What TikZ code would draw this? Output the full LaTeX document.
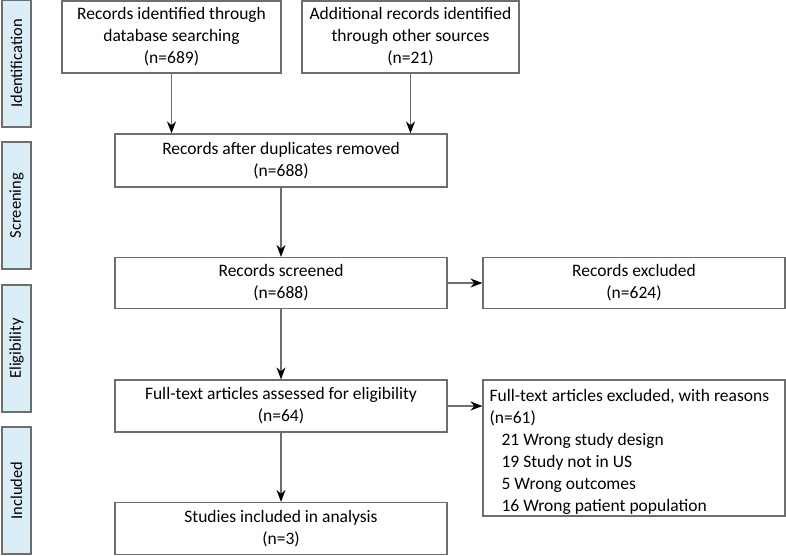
\documentclass[tikz,border=0pt]{standalone}
\usepackage{fontspec}
\setmainfont{Carlito}
\usetikzlibrary{arrows.meta,calc}
\definecolor{stagefill}{HTML}{DAEEF7}
\definecolor{edgegray}{HTML}{6E6E6E}
\definecolor{linegray}{HTML}{6E6E6E}
\tikzset{
    box/.style={draw=edgegray,line width=1.2pt,fill=white,inner sep=2pt,
        align=center,font=\fontsize{17.5}{22}\selectfont},
    stage/.style={draw=edgegray,line width=1.2pt,fill=stagefill,rotate=90,
        minimum width=127pt,minimum height=29pt,inner sep=0pt,
        font=\fontsize{16.5}{18}\selectfont},
    flow/.style={draw=linegray,line width=1.2pt,-{Stealth[length=12pt,width=9pt,color=black]}}
}
\begin{document}
\begin{tikzpicture}[x=1pt,y=-1pt]
    \useasboundingbox (0,0) rectangle (786,555);
    %% stage labels
    \node[stage] (ident) at (16.5,63.5) {Identification};
    \node[stage] (screen) at (16.5,205.5) {Screening};
    \node[stage] (elig) at (16.5,348.5) {Eligibility};
    \node[stage] (incl) at (16.5,490.5) {Included};
    %% main flow
    \node[box,minimum width=219pt,minimum height=72pt] (dbsearch) at (171.5,37)
        {Records identified through\\database searching\\(n=689)};
    \node[box,minimum width=217pt,minimum height=72pt] (othersrc) at (410.5,37)
        {Additional records identified\\through other sources\\(n=21)};
    \node[box,minimum width=332pt,minimum height=53pt] (dedup) at (281,160.5)
        {Records after duplicates removed\\(n=688)};
    \node[box,minimum width=332pt,minimum height=51pt] (screened) at (281,283)
        {Records screened\\(n=688)};
    \node[box,minimum width=302pt,minimum height=51pt] (excluded) at (634,283)
        {Records excluded\\(n=624)};
    \node[box,minimum width=332pt,minimum height=52pt] (fulltext) at (281,406)
        {Full-text articles assessed for eligibility\\(n=64)};
    \node[box,minimum width=302pt,minimum height=136pt] (ftexcl) at (634,448) {};
    \node[anchor=north west,align=left,inner sep=0pt,
        font=\fontsize{17.5}{22}\selectfont] (reasons) at ($(ftexcl.north west)+(7,10)$)
        {Full-text articles excluded, with reasons\\(n=61)\\
        \hspace{12pt}21 Wrong study design\\\hspace{12pt}19 Study not in US\\
        \hspace{12pt}5 Wrong outcomes\\\hspace{12pt}16 Wrong patient population};
    \node[box,minimum width=332pt,minimum height=52pt] (included) at (281,528.5)
        {Studies included in analysis\\(n=3)};
    %% connectors
    \draw[flow] (dbsearch.south) -- (dbsearch.south |- dedup.north);
    \draw[flow] (othersrc.south) -- (othersrc.south |- dedup.north);
    \draw[flow] (dedup) -- (screened);
    \draw[flow] (screened) -- (excluded);
    \draw[flow] (screened) -- (fulltext);
    \draw[flow] (fulltext.east) -- (fulltext.east -| ftexcl.west);
    \draw[flow] (fulltext) -- (included);
\end{tikzpicture}
\end{document}
